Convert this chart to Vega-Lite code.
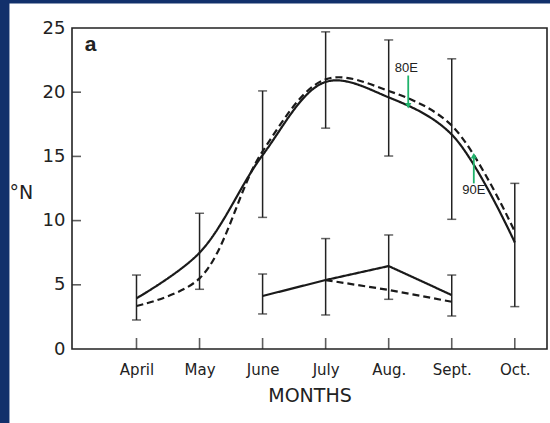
{
  "$schema": "https://vega.github.io/schema/vega-lite/v6.json",
  "autosize": "none",
  "width": 475,
  "height": 321,
  "padding": {"left": 72, "top": 28, "right": 3, "bottom": 74},
  "background": "#12306b",
  "config": {
    "view": {"stroke": null, "fill": null},
    "font": "DejaVu Sans",
    "axis": {"grid": false, "domain": false, "ticks": false, "labelColor": "#222", "titleColor": "#222", "labelFont": "DejaVu Sans", "titleFont": "DejaVu Sans", "titleFontWeight": "normal"}
  },
  "datasets": {
    "frame": [{"x1": 1.985, "x2": 10.8, "y1": -6.5, "y2": 26.9}],
    "box": [{"x1": 2.977, "x2": 10.511, "y1": 0, "y2": 25}],
    "xticks": [{"month": 4, "level": 0}, {"month": 5, "level": 0}, {"month": 6, "level": 0}, {"month": 7, "level": 0}, {"month": 8, "level": 0}, {"month": 9, "level": 0}, {"month": 10, "level": 0}],
    "yticks": [{"value": 5, "edge": 2.977}, {"value": 10, "edge": 2.977}, {"value": 15, "edge": 2.977}, {"value": 20, "edge": 2.977}],
    "lines": [
      {"month": 4, "curve": "upper", "kind": "solid", "value": 3.95},
      {"month": 5, "curve": "upper", "kind": "solid", "value": 7.5},
      {"month": 6, "curve": "upper", "kind": "solid", "value": 15.1},
      {"month": 7, "curve": "upper", "kind": "solid", "value": 20.8},
      {"month": 8, "curve": "upper", "kind": "solid", "value": 19.6},
      {"month": 9, "curve": "upper", "kind": "solid", "value": 16.7},
      {"month": 10, "curve": "upper", "kind": "solid", "value": 8.3},
      {"month": 4, "curve": "upper", "kind": "dashed", "value": 3.35},
      {"month": 5, "curve": "upper", "kind": "dashed", "value": 5.5},
      {"month": 6, "curve": "upper", "kind": "dashed", "value": 15.4},
      {"month": 7, "curve": "upper", "kind": "dashed", "value": 21.0},
      {"month": 8, "curve": "upper", "kind": "dashed", "value": 20.1},
      {"month": 9, "curve": "upper", "kind": "dashed", "value": 17.4},
      {"month": 10, "curve": "upper", "kind": "dashed", "value": 9.15},
      {"month": 6, "curve": "lower", "kind": "solid", "value": 4.13},
      {"month": 7, "curve": "lower", "kind": "solid", "value": 5.37},
      {"month": 8, "curve": "lower", "kind": "solid", "value": 6.46},
      {"month": 9, "curve": "lower", "kind": "solid", "value": 4.2},
      {"month": 7, "curve": "lower", "kind": "dashed", "value": 5.37},
      {"month": 8, "curve": "lower", "kind": "dashed", "value": 4.6},
      {"month": 9, "curve": "lower", "kind": "dashed", "value": 3.68}
    ],
    "bars": [
      {"month": 4, "curve": "upper", "lo": 2.26, "hi": 5.76},
      {"month": 5, "curve": "upper", "lo": 4.65, "hi": 10.57},
      {"month": 6, "curve": "upper", "lo": 10.25, "hi": 20.1},
      {"month": 7, "curve": "upper", "lo": 17.2, "hi": 24.7},
      {"month": 8, "curve": "upper", "lo": 15.03, "hi": 24.07},
      {"month": 9, "curve": "upper", "lo": 10.1, "hi": 22.6},
      {"month": 10, "curve": "upper", "lo": 3.3, "hi": 12.9},
      {"month": 6, "curve": "lower", "lo": 2.73, "hi": 5.84},
      {"month": 7, "curve": "lower", "lo": 2.65, "hi": 8.6},
      {"month": 8, "curve": "lower", "lo": 3.87, "hi": 8.88},
      {"month": 9, "curve": "lower", "lo": 2.57, "hi": 5.76}
    ],
    "notes": [
      {"month": 8.28, "value": 21.9, "label": "80E"},
      {"month": 9.35, "value": 12.4, "label": "90E"}
    ],
    "panel": [{"month": 3.27, "value": 23.7, "label": "a"}],
    "arrows": [
      {"month": 8.31, "tail": 21.3, "tip": 19.0, "head": 18.95, "shape": "triangle-down"},
      {"month": 9.35, "tail": 12.9, "tip": 15.0, "head": 15.05, "shape": "triangle-up"}
    ]
  },
  "layer": [
    {"data": {"name": "frame"}, "mark": {"type": "rect", "fill": "white", "clip": false},
      "encoding": {
        "x": {"field": "x1", "type": "quantitative", "scale": {"domain": [2.977, 10.511], "nice": false, "zero": false},
          "axis": {"zindex": 2, "values": [4, 5, 6, 7, 8, 9, 10], "labelExpr": "['','','','','April','May','June','July','Aug.','Sept.','Oct.'][datum.value]", "labelPadding": 13, "labelFontSize": 15, "title": "MONTHS", "titleFontSize": 19, "titlePadding": 9}},
        "x2": {"field": "x2"},
        "y": {"field": "y1", "type": "quantitative", "scale": {"domain": [0, 25], "nice": false, "zero": false},
          "axis": {"zindex": 2, "values": [0, 5, 10, 15, 20, 25], "labelPadding": 7, "labelFontSize": 18, "title": "°N", "titleFontSize": 19, "titleAngle": 0, "titleAlign": "left", "titleBaseline": "middle", "titleX": -63, "titleY": 164}},
        "y2": {"field": "y2"}}},
    {"data": {"name": "xticks"}, "mark": {"type": "tick", "orient": "vertical", "color": "#1a1a1a", "size": 11, "thickness": 1.6, "yOffset": -5.5, "clip": false},
      "encoding": {"x": {"field": "month", "type": "quantitative"}, "y": {"field": "level", "type": "quantitative"}}},
    {"data": {"name": "yticks"}, "mark": {"type": "tick", "orient": "horizontal", "color": "#1a1a1a", "size": 9, "thickness": 1.6, "xOffset": 4.5, "clip": false},
      "encoding": {"y": {"field": "value", "type": "quantitative"}, "x": {"field": "edge", "type": "quantitative"}}},
    {"data": {"name": "bars"}, "mark": {"type": "rule", "color": "#222", "strokeWidth": 1.5},
      "encoding": {"x": {"field": "month", "type": "quantitative"}, "y": {"field": "lo", "type": "quantitative"}, "y2": {"field": "hi"}}},
    {"data": {"name": "bars"}, "mark": {"type": "tick", "orient": "horizontal", "color": "#222", "size": 9, "thickness": 1.5},
      "encoding": {"x": {"field": "month", "type": "quantitative"}, "y": {"field": "lo", "type": "quantitative"}}},
    {"data": {"name": "bars"}, "mark": {"type": "tick", "orient": "horizontal", "color": "#222", "size": 9, "thickness": 1.5},
      "encoding": {"x": {"field": "month", "type": "quantitative"}, "y": {"field": "hi", "type": "quantitative"}}},
    {"data": {"name": "lines"}, "transform": [{"filter": "datum.curve === 'upper'"}],
      "mark": {"type": "line", "color": "#1a1a1a", "strokeWidth": 2.2, "interpolate": "catmull-rom"},
      "encoding": {"x": {"field": "month", "type": "quantitative"}, "y": {"field": "value", "type": "quantitative"}, "detail": {"field": "kind"},
        "strokeDash": {"field": "kind", "type": "nominal", "scale": {"domain": ["solid", "dashed"], "range": [[1, 0], [7, 4]]}, "legend": null}}},
    {"data": {"name": "lines"}, "transform": [{"filter": "datum.curve === 'lower'"}],
      "mark": {"type": "line", "color": "#1a1a1a", "strokeWidth": 2.2},
      "encoding": {"x": {"field": "month", "type": "quantitative"}, "y": {"field": "value", "type": "quantitative"}, "detail": {"field": "kind"},
        "strokeDash": {"field": "kind", "type": "nominal", "scale": {"domain": ["solid", "dashed"], "range": [[1, 0], [7, 4]]}, "legend": null}}},
    {"data": {"name": "arrows"}, "mark": {"type": "rule", "color": "#1fb36b", "strokeWidth": 1.8},
      "encoding": {"x": {"field": "month", "type": "quantitative"}, "y": {"field": "tail", "type": "quantitative"}, "y2": {"field": "tip"}}},
    {"data": {"name": "arrows"}, "mark": {"type": "point", "filled": true, "color": "#1fb36b", "size": 40, "opacity": 1},
      "encoding": {"x": {"field": "month", "type": "quantitative"}, "y": {"field": "head", "type": "quantitative"}, "shape": {"field": "shape", "type": "nominal", "scale": null}}},
    {"data": {"name": "notes"}, "mark": {"type": "text", "font": "Liberation Sans", "fontSize": 13, "color": "#222", "baseline": "middle", "align": "center"},
      "encoding": {"x": {"field": "month", "type": "quantitative"}, "y": {"field": "value", "type": "quantitative"}, "text": {"field": "label"}}},
    {"data": {"name": "panel"}, "mark": {"type": "text", "font": "Liberation Sans", "fontSize": 21, "fontWeight": "bold", "color": "#222", "baseline": "middle", "align": "center"},
      "encoding": {"x": {"field": "month", "type": "quantitative"}, "y": {"field": "value", "type": "quantitative"}, "text": {"field": "label"}}},
    {"data": {"name": "box"}, "mark": {"type": "rect", "fill": null, "fillOpacity": 0, "stroke": "#222", "strokeWidth": 1.6, "clip": false},
      "encoding": {"x": {"field": "x1", "type": "quantitative"}, "x2": {"field": "x2"}, "y": {"field": "y1", "type": "quantitative"}, "y2": {"field": "y2"}}}
  ]
}
